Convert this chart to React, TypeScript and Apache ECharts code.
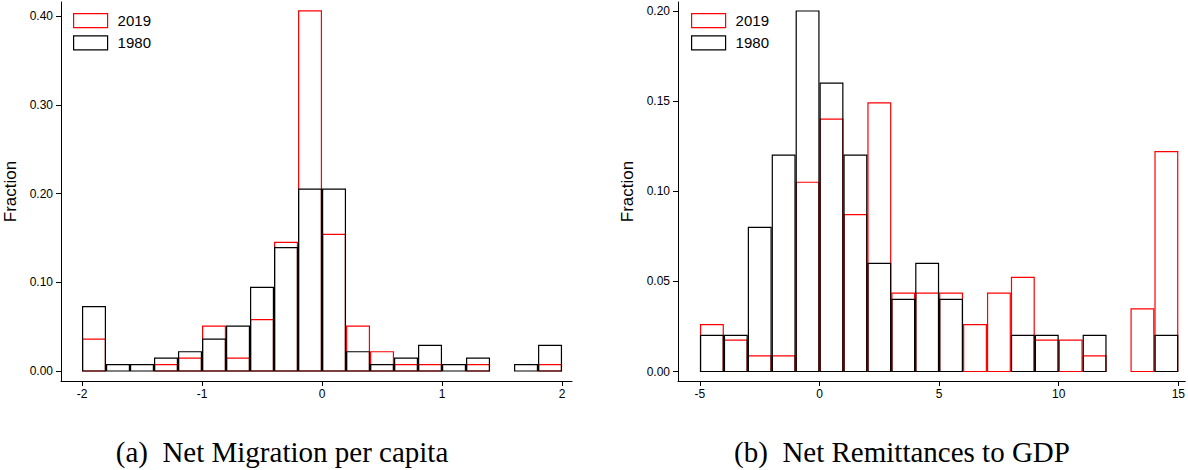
import React, { useEffect, useRef } from "react";
import * as echarts from "echarts";

// ---- Data ----
const migBinStarts = [-2, -1.8, -1.6, -1.4, -1.2, -1, -0.8, -0.6, -0.4, -0.2, 0, 0.2, 0.4, 0.6, 0.8, 1, 1.2, 1.4, 1.6, 1.8];
const migBinWidth = 0.2;
const mig2019 = [0.036, 0, 0, 0.0072, 0.0145, 0.0507, 0.0145, 0.058, 0.145, 0.406, 0.154, 0.0507, 0.0217, 0.0072, 0.0072, 0, 0.0072, 0, 0, 0.0072];
const mig1980 = [0.0725, 0.0072, 0.0072, 0.0145, 0.0217, 0.036, 0.0507, 0.0942, 0.139, 0.205, 0.205, 0.0217, 0.0072, 0.0145, 0.029, 0.0072, 0.0145, 0, 0.0072, 0.029];

const remBinStarts = [-5, -4, -3, -2, -1, 0, 1, 2, 3, 4, 5, 6, 7, 8, 9, 10, 11, 12, 13, 14];
const remBinWidth = 1;
const rem2019 = [0.026, 0.0174, 0.0087, 0.0087, 0.105, 0.14, 0.087, 0.149, 0.0435, 0.0435, 0.0435, 0.026, 0.0435, 0.0522, 0.0174, 0.0174, 0.0087, 0, 0.0348, 0.122];
const rem1980 = [0.02, 0.02, 0.08, 0.12, 0.2, 0.16, 0.12, 0.06, 0.04, 0.06, 0.04, 0, 0, 0.02, 0.02, 0, 0.02, 0, 0, 0.02];

const migXTicks = [-2, -1, 0, 1, 2];
const migYTicks = [0, 0.1, 0.2, 0.3, 0.4];
const remXTicks = [-5, 0, 5, 10, 15];
const remYTicks = [0, 0.05, 0.1, 0.15, 0.2];

const seriesNames = ["2019", "1980"];
const captions = ["(a)  Net Migration per capita", "(b)  Net Remittances to GDP"];

const RED = "#ff0000";
const BLACK = "#000000";
const SANS = "'Liberation Sans', Arial, Helvetica, sans-serif";
const SERIF = "'Liberation Serif', 'Times New Roman', serif";

function toBins(starts: number[], width: number, vals: number[]) {
  return starts
    .map((s, i) => [s, +(s + width).toFixed(4), vals[i]])
    .filter((d) => d[2] > 0);
}

function makeRender(color: string) {
  return (params: any, api: any) => {
    const x0 = api.value(0);
    const x1 = api.value(1);
    const v = api.value(2);
    const pTop = api.coord([x0, v]);
    const pBot = api.coord([x1, 0]);
    return {
      type: "rect",
      shape: {
        x: pTop[0] + 0.6,
        y: pTop[1],
        width: pBot[0] - pTop[0] - 1.2,
        height: pBot[1] - pTop[1],
      },
      style: { fill: "none", stroke: color, lineWidth: 1.2 },
    };
  };
}

function xAxisCfg(gridIndex: number, min: number, max: number, ticks: number[]) {
  return {
    type: "value",
    gridIndex,
    min,
    max,
    splitLine: { show: false },
    axisLine: { show: true, onZero: false, lineStyle: { color: BLACK, width: 1 } },
    axisTick: { show: true, length: 5, customValues: ticks, lineStyle: { color: BLACK, width: 1 } },
    axisLabel: {
      customValues: ticks,
      color: BLACK,
      fontSize: 12,
      fontFamily: SANS,
      margin: 7,
      formatter: (v: number) => String(Math.round(v)),
    },
  };
}

function yAxisCfg(gridIndex: number, min: number, max: number, ticks: number[]) {
  return {
    type: "value",
    gridIndex,
    min,
    max,
    name: "Fraction",
    nameLocation: "middle",
    nameGap: 42,
    nameTextStyle: { color: BLACK, fontSize: 17, fontFamily: SANS },
    splitLine: { show: false },
    axisLine: { show: true, onZero: false, lineStyle: { color: BLACK, width: 1 } },
    axisTick: { show: true, length: 5, customValues: ticks, lineStyle: { color: BLACK, width: 1 } },
    axisLabel: {
      customValues: ticks,
      color: BLACK,
      fontSize: 12,
      fontFamily: SANS,
      margin: 8,
      formatter: (v: number) => v.toFixed(2),
    },
  };
}

function legendCfg(left: number) {
  return {
    left,
    top: 13,
    padding: 0,
    orient: "vertical",
    icon: "rect",
    itemWidth: 34,
    itemHeight: 14,
    itemGap: 7,
    selectedMode: false,
    textStyle: { color: BLACK, fontSize: 15, fontFamily: SANS, padding: [0, 0, 0, 5] },
    data: [
      { name: seriesNames[0], itemStyle: { color: "#ffffff", borderColor: RED, borderWidth: 1.2 } },
      { name: seriesNames[1], itemStyle: { color: "#ffffff", borderColor: BLACK, borderWidth: 1.2 } },
    ],
  };
}

function seriesCfg(name: string, color: string, axisIndex: number, data: number[][]) {
  return {
    type: "custom",
    name,
    xAxisIndex: axisIndex,
    yAxisIndex: axisIndex,
    encode: { x: [0, 1], y: 2 },
    clip: false,
    itemStyle: { color: "#ffffff", borderColor: color, borderWidth: 1.2 },
    renderItem: makeRender(color),
    data,
  };
}

export default function App() {
  const ref = useRef<HTMLDivElement>(null);
  useEffect(() => {
    if (!ref.current) return;
    const chart = echarts.init(ref.current, null, { renderer: "svg" });
    chart.setOption({
      animation: false,
      backgroundColor: "#ffffff",
      grid: [
        { left: 61, top: 2, width: 511, height: 379 },
        { left: 678, top: 2, width: 509, height: 379 },
      ],
      xAxis: [
        xAxisCfg(0, -2.175, 2.083, migXTicks),
        xAxisCfg(1, -5.917, 15.29, remXTicks),
      ],
      yAxis: [
        yAxisCfg(0, -0.01127, 0.416, migYTicks),
        yAxisCfg(1, -0.00527, 0.205, remYTicks),
      ],
      legend: [legendCfg(73), legendCfg(691)],
      series: [
        seriesCfg(seriesNames[0], RED, 0, toBins(migBinStarts, migBinWidth, mig2019)),
        seriesCfg(seriesNames[1], BLACK, 0, toBins(migBinStarts, migBinWidth, mig1980)),
        seriesCfg(seriesNames[0], RED, 1, toBins(remBinStarts, remBinWidth, rem2019)),
        seriesCfg(seriesNames[1], BLACK, 1, toBins(remBinStarts, remBinWidth, rem1980)),
      ],
      graphic: [
        {
          type: "text",
          x: 282,
          y: 452,
          style: { text: captions[0], align: "center", verticalAlign: "middle", font: `29px ${SERIF}`, fill: BLACK },
        },
        {
          type: "text",
          x: 902,
          y: 452,
          style: { text: captions[1], align: "center", verticalAlign: "middle", font: `29px ${SERIF}`, fill: BLACK },
        },
      ],
    });
    return () => chart.dispose();
  }, []);
  return (
    <div
      ref={ref}
      style={{ position: "fixed", left: 0, top: 0, width: 1188, height: 470, background: "#fff" }}
    />
  );
}
